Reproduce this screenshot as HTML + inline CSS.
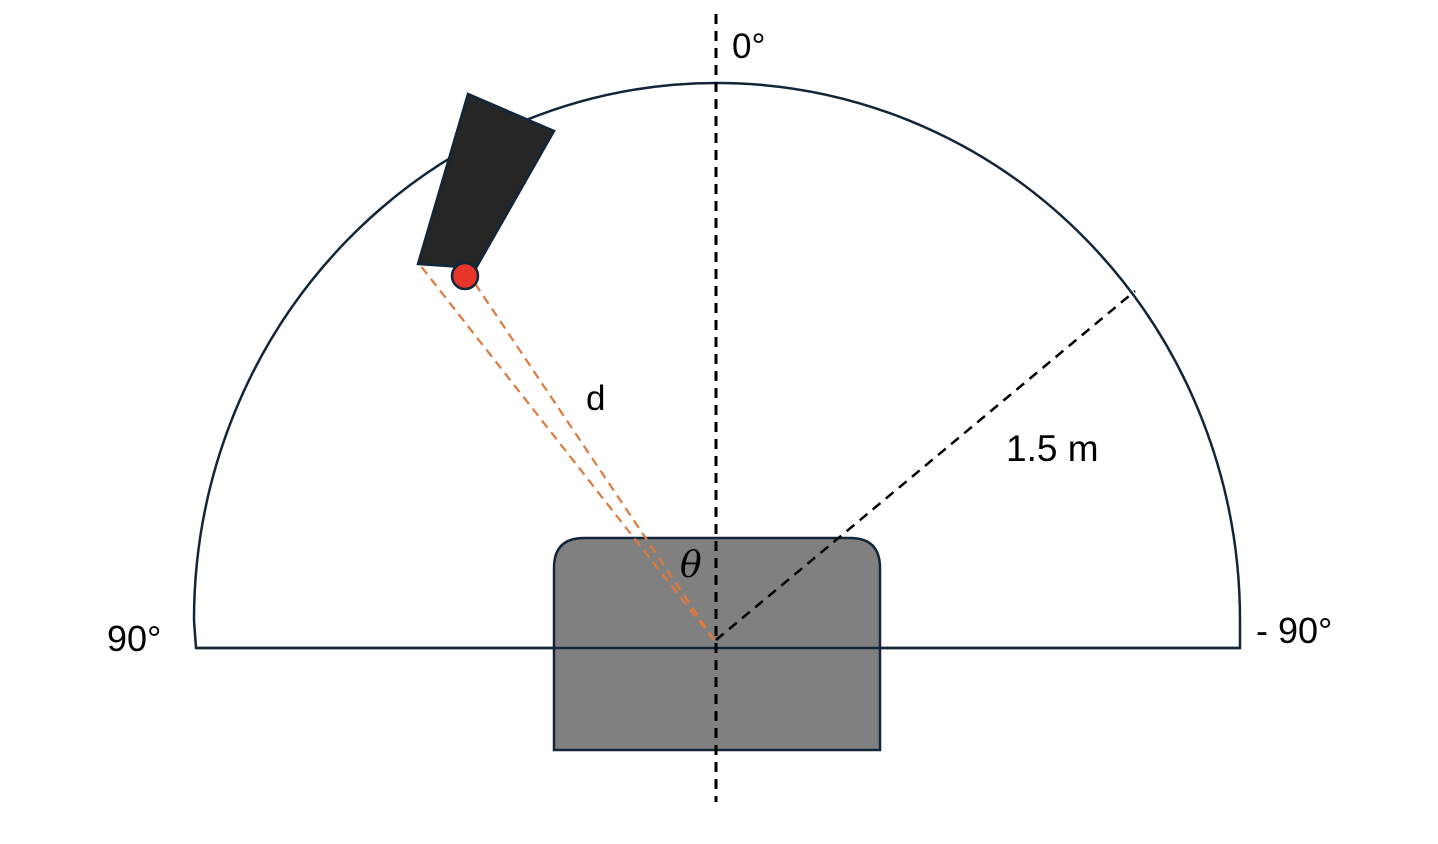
<!DOCTYPE html>
<html><head><meta charset="utf-8"><style>
html,body{margin:0;padding:0;background:#fff;}
svg{display:block;font-family:"Liberation Sans",sans-serif;}
</style></head><body>
<svg width="1438" height="844" viewBox="0 0 1438 844">
  <path d="M196,648 L194,620 A523,537 0 0 1 1240,620 L1240,648 Z" fill="none" stroke="#12263a" stroke-width="2.5"/>
  <path d="M554,750 L554,568 Q554,538 584,538 L850,538 Q880,538 880,568 L880,750 Z" fill="#808080" stroke="#12263a" stroke-width="2.5"/>
  <line x1="196" y1="648" x2="1240" y2="648" stroke="#12263a" stroke-width="2.5"/>
  <line x1="716" y1="14" x2="716" y2="802" stroke="#000" stroke-width="3" stroke-dasharray="10,7"/>
  <line x1="716" y1="640" x2="1135" y2="291" stroke="#000" stroke-width="2.5" stroke-dasharray="10,7"/>
  <line x1="714" y1="640" x2="420" y2="265" stroke="#e07a3c" stroke-width="2.2" stroke-dasharray="9,6"/>
  <line x1="714" y1="640" x2="474" y2="282" stroke="#e07a3c" stroke-width="2.2" stroke-dasharray="9,6"/>
  <polygon points="418,264 468,94 554,131 476,268" fill="#262626" stroke="#12263a" stroke-width="2.5"/>
  <circle cx="465" cy="276" r="13" fill="#e8352a" stroke="#12263a" stroke-width="2.5"/>
  <text x="732" y="58" font-size="35">0°</text>
  <text x="107" y="651" font-size="36">90°</text>
  <text x="1256" y="643" font-size="36">- 90°</text>
  <text x="586" y="410" font-size="35">d</text>
  <text x="1006" y="461" font-size="37">1.5 m</text>
  <text x="680" y="577" font-size="36" font-style="italic" font-family="'DejaVu Serif',serif">θ</text>
</svg>
</body></html>
